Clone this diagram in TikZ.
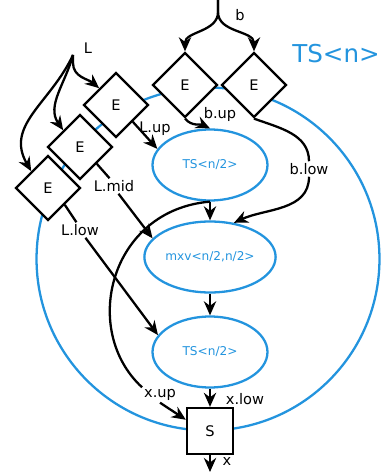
\documentclass[tikz,border=0pt]{standalone}
\usepackage{fontspec}
\setmainfont{DejaVu Sans}
\usetikzlibrary{shapes.geometric,arrows.meta}
\definecolor{tsblue}{RGB}{35,148,222}

\begin{document}
\begin{tikzpicture}[%
      x=0.02cm, y=-0.02cm,
      every node/.style={font={\fontsize{8.3}{9}\selectfont}, inner sep=1pt},
      wire/.style={line width=1.3pt},
      flow/.style={wire, -{Stealth[length=8pt,width=7pt]}},
      enc/.style={diamond, draw, fill=white, line width=1.3pt,
                  minimum size=1.3cm, inner sep=0pt},
      sub/.style={ellipse, draw=tsblue, line width=1.3pt, text=tsblue,
                  minimum width=2.3cm, minimum height=1.42cm,
                  font={\fontsize{6.9}{7}\selectfont}},
      sum/.style={rectangle, draw, fill=white, line width=1.3pt,
                  minimum size=0.92cm, inner sep=0pt}
    ]
    \useasboundingbox (0,0) rectangle (380,472);
    \node [circle, draw=tsblue, line width=1.3pt, minimum size=6.86cm] (TS n) at (208,259) {};
    \node [text=tsblue, font={\fontsize{14}{16}\selectfont}] (TS label) at (336,54) {TS<n>};

    \node [enc] (E b up)  at (185,85)  {E};
    \node [enc] (E b low) at (254,85)  {E};
    \node [enc] (E L up)  at (116,105) {E};
    \node [enc] (E L mid) at (80,147)  {E};
    \node [enc] (E L low) at (48,188)  {E};

    \node [sub] (TS up)  at (210,165) {TS<n/2>};
    \node [sub] (mxv)    at (210,257) {mxv<n/2,n/2>};
    \node [sub] (TS low) at (210,352) {TS<n/2>};
    \node [sum] (S)      at (210,431) {S};

    \coordinate (b in)  at (218,0);
    \coordinate (L in)  at (73,55);
    \coordinate (x out) at (210,472);

    \node (b)     at (240,15)  {b};
    \node (L)     at (88,48)   {L};
    \node (L up)  at (155,129) {L.up};
    \node (b up)  at (220,114) {b.up};
    \node (b low) at (309,169) {b.low};
    \node (L mid) at (114,186) {L.mid};
    \node (L low) at (80,230)  {L.low};
    \node (x up)  at (160,395) {x.up};
    \node (x low) at (245,399) {x.low};
    \node (x)     at (227,462) {x};

    \draw [flow] (b in) -- ++(0,12) to[out=-90, in=90] (E b up.north);
    \draw [flow] (b in) -- ++(0,12) to[out=-90, in=90] (E b low.north);
    \draw [flow] (L in) -- ++(0,8) to[out=-90, in=140] (E L up.north west);
    \draw [flow] (L in) to[out=-105, in=125] (E L mid.north west);
    \draw [flow] (L in) to[out=-115, in=120, looseness=1.1] (E L low.north west);

    \draw [flow] (E L up.south east) -- (TS up.163);
    \draw [flow] (E b up.south) to[out=-50, in=155] (TS up.north);
    \draw [wire] (E b low.south) to[out=-20, in=90] (b low.north);
    \draw [flow] (b low.south) to[out=-90, in=25] (mxv.55);
    \draw [wire] (E L mid.south east) -- (L mid.120);
    \draw [flow] (L mid.-60) -- (mxv.162);
    \draw [wire] (E L low.south east) -- (L low.115);
    \draw [flow] (L low.-55) -- (TS low.162);

    \draw [flow] (TS up.south) -- (mxv.north);
    \draw [flow] (mxv.south) -- (TS low.north);
    \draw [flow] (TS low.south) -- (S.north);
    \draw [wire] (TS up.south) .. controls (110,210) and (80,330) .. (x up.north west);
    \draw [flow] (x up.south) -- (S.155);
    \draw [flow] (S.south) -- (x out);
  \end{tikzpicture}
\end{document}
